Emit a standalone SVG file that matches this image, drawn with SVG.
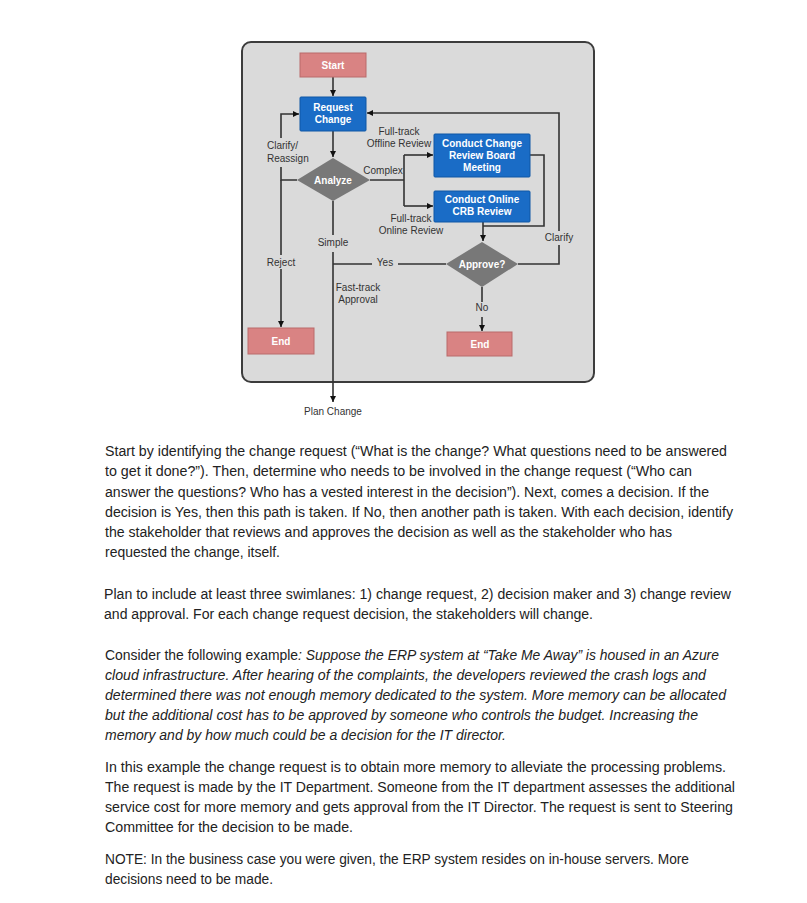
<svg xmlns="http://www.w3.org/2000/svg" width="807" height="903" viewBox="0 0 807 903">
<style>
.lbl{font-family:"Liberation Sans",Arial,sans-serif;font-size:10px;fill:#333;text-anchor:middle}
.nt{font-family:"Liberation Sans",Arial,sans-serif;font-size:10px;font-weight:bold;fill:#fff;text-anchor:middle}
.term{fill:#d98383;stroke:#b96a6a;stroke-width:1}
.proc{fill:#1a6cc6;stroke:#0e57a5;stroke-width:1}
.dec{fill:#787878}
.ln{fill:none;stroke:#333;stroke-width:1.6}
.arr{marker-end:url(#ah)}
.p{font-family:"Liberation Sans",Arial,sans-serif;font-size:14px;fill:#222}
.i{font-style:italic}
</style>
<defs>
<marker id="ah" viewBox="0 0 10 10" refX="10" refY="5" markerWidth="6" markerHeight="6" markerUnits="userSpaceOnUse" orient="auto">
<path d="M0,0 L10,5 L0,10 z" fill="#111"/>
</marker>
</defs>
<rect width="807" height="903" fill="#fff"/>
<rect id="panel" x="242" y="42" width="352" height="340" rx="9" fill="#dadada" stroke="#3c3c3c" stroke-width="2"/>

<g id="connectors">
<path class="ln arr" d="M333,77 V96"/>
<path class="ln arr" d="M333,131 V157"/>
<path class="ln arr" d="M297,180 H281 V167 M281,138 V114 H299"/>
<path class="ln arr" d="M281,180 V255 M281,269 V327"/>
<path class="ln arr" d="M333,201 V235 M333,252 V402"/>
<path class="ln" d="M446,264 H398 M372,264 H333"/>
<path class="ln" d="M370,180 H404 M404,155 V206"/>
<path class="ln arr" d="M404,155 H433"/>
<path class="ln arr" d="M404,206 H433"/>
<path class="ln" d="M530,155 H544 V226 H483"/>
<path class="ln arr" d="M483,222 V241"/>
<path class="ln arr" d="M518,264 H559 V245 M559,231 V113 H367"/>
<path class="ln arr" d="M482,287 V302 M482,317 V331"/>
</g>

<g id="start"><rect class="term" x="300" y="53" width="66" height="24"/><text class="nt" x="333" y="68.5">Start</text></g>
<g id="request"><rect class="proc" x="300" y="97" width="66" height="34" rx="1"/><text class="nt" x="333" y="111">Request</text><text class="nt" x="333" y="123">Change</text></g>
<g id="analyze"><polygon class="dec" points="333,158 370,180 333,201 297,180"/><text class="nt" x="333" y="184">Analyze</text></g>
<g id="ccrb"><rect class="proc" x="434" y="134" width="96" height="43" rx="1"/><text class="nt" x="482" y="146.5">Conduct Change</text><text class="nt" x="482" y="158.5">Review Board</text><text class="nt" x="482" y="171">Meeting</text></g>
<g id="online"><rect class="proc" x="434" y="191" width="96" height="31" rx="1"/><text class="nt" x="482" y="203">Conduct Online</text><text class="nt" x="482" y="215">CRB Review</text></g>
<g id="approve"><polygon class="dec" points="482,242 518,264 482,287 446,264"/><text class="nt" x="482" y="268">Approve?</text></g>
<g id="end1"><rect class="term" x="248" y="328" width="66" height="26"/><text class="nt" x="281" y="344.5">End</text></g>
<g id="end2"><rect class="term" x="447" y="332" width="65" height="24"/><text class="nt" x="480" y="347.5">End</text></g>
<g id="plan"><text class="lbl" x="333" y="415">Plan Change</text></g>

<g id="labels">
<text class="lbl" x="267" y="149" style="text-anchor:start">Clarify/</text>
<text class="lbl" x="267" y="161.5" style="text-anchor:start">Reassign</text>
<text class="lbl" x="399" y="135">Full-track</text>
<text class="lbl" x="399" y="147">Offline Review</text>
<text class="lbl" x="383" y="173.5">Complex</text>
<text class="lbl" x="411" y="222">Full-track</text>
<text class="lbl" x="411" y="233.5">Online Review</text>
<text class="lbl" x="333" y="246">Simple</text>
<text class="lbl" x="281" y="265.5">Reject</text>
<text class="lbl" x="385" y="265.5">Yes</text>
<text class="lbl" x="358" y="291">Fast-track</text>
<text class="lbl" x="358" y="303">Approval</text>
<text class="lbl" x="482" y="311">No</text>
<text class="lbl" x="559" y="240.5">Clarify</text>
</g>

<g id="body">
<text class="p" x="105" y="456" textLength="622" lengthAdjust="spacingAndGlyphs">Start by identifying the change request (“What is the change? What questions need to be answered</text>
<text class="p" x="105" y="476" textLength="587" lengthAdjust="spacingAndGlyphs">to get it done?”). Then, determine who needs to be involved in the change request (“Who can</text>
<text class="p" x="105" y="496.5" textLength="604" lengthAdjust="spacingAndGlyphs">answer the questions? Who has a vested interest in the decision”). Next, comes a decision. If the</text>
<text class="p" x="105" y="516.5" textLength="628" lengthAdjust="spacingAndGlyphs">decision is Yes, then this path is taken. If No, then another path is taken. With each decision, identify</text>
<text class="p" x="105" y="537" textLength="567" lengthAdjust="spacingAndGlyphs">the stakeholder that reviews and approves the decision as well as the stakeholder who has</text>
<text class="p" x="105" y="557" textLength="175" lengthAdjust="spacingAndGlyphs">requested the change, itself.</text>

<text class="p" x="104" y="599" textLength="627" lengthAdjust="spacingAndGlyphs">Plan to include at least three swimlanes: 1) change request, 2) decision maker and 3) change review</text>
<text class="p" x="104" y="619" textLength="489" lengthAdjust="spacingAndGlyphs">and approval. For each change request decision, the stakeholders will change.</text>

<text class="p" x="105" y="659.5" textLength="614" lengthAdjust="spacingAndGlyphs">Consider the following example<tspan class="i">: Suppose the ERP system at “Take Me Away” is housed in an Azure</tspan></text>
<text class="p i" x="105" y="679.5" textLength="601" lengthAdjust="spacingAndGlyphs">cloud infrastructure. After hearing of the complaints, the developers reviewed the crash logs and</text>
<text class="p i" x="105" y="699.5" textLength="621" lengthAdjust="spacingAndGlyphs">determined there was not enough memory dedicated to the system. More memory can be allocated</text>
<text class="p i" x="105" y="719.5" textLength="593" lengthAdjust="spacingAndGlyphs">but the additional cost has to be approved by someone who controls the budget. Increasing the</text>
<text class="p i" x="105" y="739.5" textLength="401" lengthAdjust="spacingAndGlyphs">memory and by how much could be a decision for the IT director.</text>

<text class="p" x="105" y="772" textLength="621" lengthAdjust="spacingAndGlyphs">In this example the change request is to obtain more memory to alleviate the processing problems.</text>
<text class="p" x="105" y="792" textLength="630" lengthAdjust="spacingAndGlyphs">The request is made by the IT Department. Someone from the IT department assesses the additional</text>
<text class="p" x="105" y="812" textLength="628" lengthAdjust="spacingAndGlyphs">service cost for more memory and gets approval from the IT Director. The request is sent to Steering</text>
<text class="p" x="105" y="832" textLength="248" lengthAdjust="spacingAndGlyphs">Committee for the decision to be made.</text>

<text class="p" x="105" y="864" textLength="584" lengthAdjust="spacingAndGlyphs">NOTE: In the business case you were given, the ERP system resides on in-house servers. More</text>
<text class="p" x="105" y="883.5" textLength="168" lengthAdjust="spacingAndGlyphs">decisions need to be made.</text>
</g>
</svg>
